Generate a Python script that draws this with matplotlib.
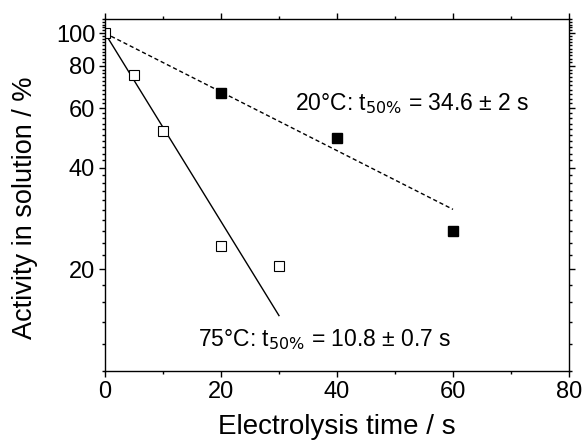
import matplotlib.pyplot as plt
from matplotlib.ticker import FixedLocator, MultipleLocator, NullFormatter

plt.rcParams["font.family"] = ["Liberation Sans", "DejaVu Sans"]

# 75 C data (open squares)
t_75 = [0, 5, 10, 20, 30]
act_75 = [100, 75, 51.2, 23.4, 20.5]
# 20 C data (filled squares)
t_20 = [20, 40, 60]
act_20 = [66.6, 49.1, 25.9]

# first-order fits (endpoints, straight on log axis)
fit_t_75 = [0, 30]
fit_a_75 = [100, 14.6]
fit_t_20 = [0, 60]
fit_a_20 = [100, 30.1]

fig = plt.figure(figsize=(5.83, 4.45), dpi=100)
ax = fig.add_axes([0.180, 0.166, 0.796, 0.791])

ax.plot(fit_t_20, fit_a_20, color="black", lw=1, ls=(0, (3, 2)))
ax.plot(fit_t_75, fit_a_75, color="black", lw=1)
ax.plot(t_75, act_75, ls="none", marker="s", ms=7, mfc="white", mec="black", mew=0.8)
ax.plot(t_20, act_20, ls="none", marker="s", ms=7, mfc="black", mec="black")

ax.set_yscale("log")
ax.set_xlim(0, 80)
ax.set_ylim(10, 110)

ax.xaxis.set_major_locator(MultipleLocator(20))
ax.xaxis.set_minor_locator(MultipleLocator(10))
ax.yaxis.set_major_locator(FixedLocator([20, 40, 60, 80, 100]))
ax.yaxis.set_major_formatter(plt.FixedFormatter(["20", "40", "60", "80", "100"]))
minors = [v for v in range(10, 111, 2) if v not in (20, 40, 60, 80, 100)]
ax.yaxis.set_minor_locator(FixedLocator(minors))
ax.yaxis.set_minor_formatter(NullFormatter())

ax.tick_params(which="both", direction="out", top=True, right=True, labelsize=17, pad=3)
ax.tick_params(which="major", length=4, width=1)
ax.tick_params(which="minor", length=2.5, width=1)
for s in ax.spines.values():
    s.set_linewidth(1)

ax.set_xlabel("Electrolysis time / s", fontsize=20, labelpad=8)
ax.set_ylabel("Activity in solution / %", fontsize=19.5, va="center")
ax.yaxis.set_label_coords(-0.172, 0.463)

ax.text(32.8, 62, r"20°C: t$_{50\%}$ = 34.6 ± 2 s", fontsize=16.5, va="center")
ax.text(16.0, 12.4, r"75°C: t$_{50\%}$ = 10.8 ± 0.7 s", fontsize=16.5, va="center")

fig.savefig("out.png", dpi=100)
